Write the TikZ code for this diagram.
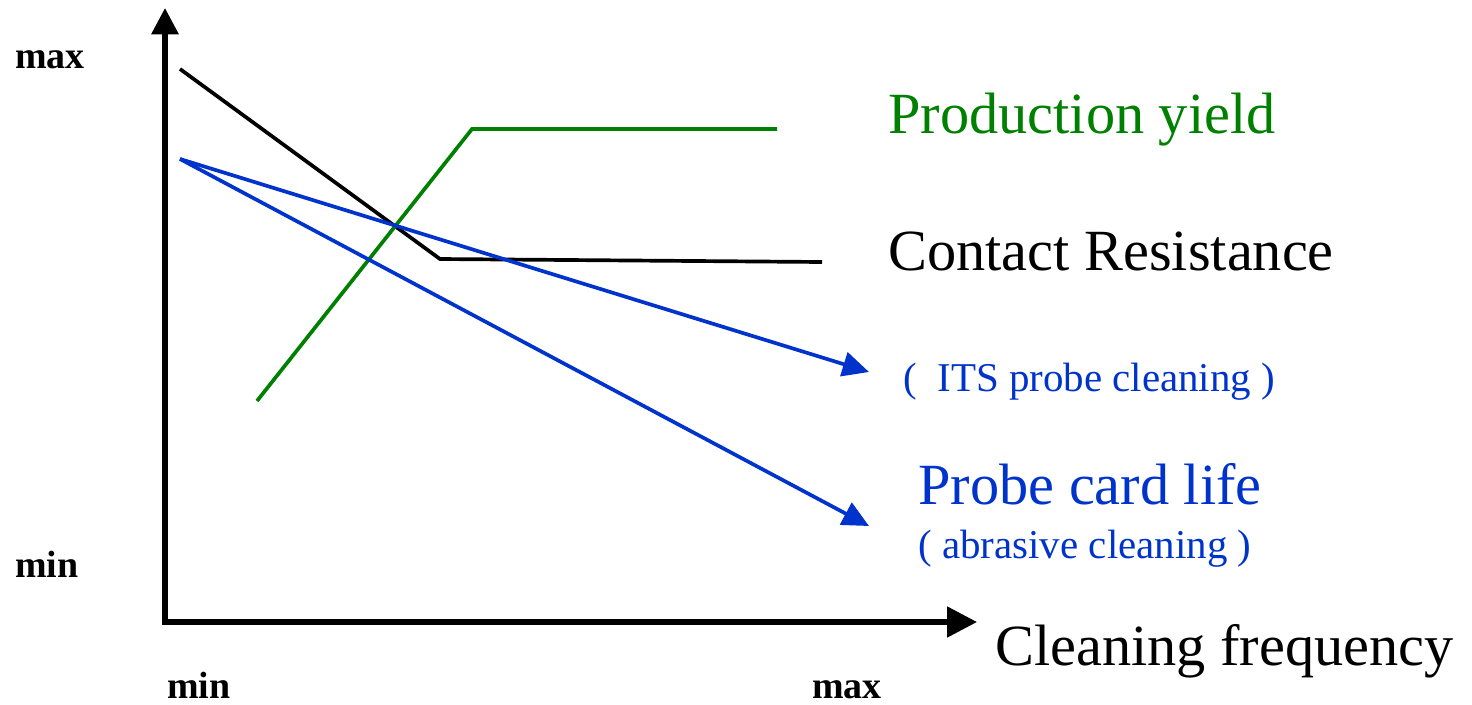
\documentclass[tikz,border=0pt]{standalone}
\usepackage{fontspec}
\setmainfont{Liberation Serif}
\usetikzlibrary{positioning}
\usetikzlibrary{arrows.meta}
\usetikzlibrary{calc}

\definecolor{yieldgreen}{RGB}{0,128,0}
\definecolor{lifeblue}{RGB}{0,51,204}

\tikzset{
  axis/.style={line width=3pt, {Triangle[length=15pt,width=15pt]}-{Triangle[length=17pt,width=17pt]}},
  curve/.style={line width=2.1pt},
  blueline/.style={curve, lifeblue, -{Triangle[length=15pt,width=14pt]}},
  biglabel/.style={inner sep=0pt, anchor=base west, font=\fontsize{33.2}{36}\selectfont},
  smalllabel/.style={inner sep=0pt, anchor=base west, font=\fontsize{23.3}{26}\selectfont},
  ticklabel/.style={inner sep=0pt, anchor=base west, font=\fontsize{21.6}{24}\selectfont\bfseries},
}

\begin{document}
\begin{tikzpicture}[x=0.02cm, y=-0.02cm]
  \useasboundingbox (0,0) rectangle (1472,704);

  % axes
  \coordinate (ytip) at (165,8);
  \coordinate (xtip) at (977,622);
  \draw[axis] (ytip) |- (xtip);

  % min and max marks
  \node[ticklabel] (ymax) at (15,68) {max};
  \node[ticklabel] (ymin) at (15,577) {min};
  \node[ticklabel] (xmin) at (167,698) {min};
  \node[ticklabel] (xmax) at (812,698) {max};

  % contact resistance
  \coordinate (c1) at (180,69);
  \coordinate (c2) at (440,259);
  \coordinate (c3) at (822,262);
  \draw[curve] (c1) -- (c2) -- (c3);

  % production yield
  \coordinate (g1) at (257,401);
  \coordinate (g2) at (472,129);
  \coordinate (g3) at (777,129);
  \draw[curve, yieldgreen] (g1) -- (g2) -- (g3);

  % probe card life
  \coordinate (b0) at (180,159);
  \coordinate (its) at (869,372);
  \coordinate (abr) at (869,526);
  \draw[blueline] (b0) -- (its);
  \draw[blueline] (b0) -- (abr);

  % labels
  \node[biglabel, yieldgreen] (yield) at (888,133) {Production yield};
  \node[biglabel] (resist) at (888,270) {Contact Resistance};
  \node[smalllabel, lifeblue] (itslabel) at (903,391) {( \ ITS probe cleaning )};
  \node[biglabel, lifeblue] (life) at (918,504) {Probe card life};
  \node[smalllabel, lifeblue] (abrlabel) at (918,558) {( abrasive cleaning )};
  \node[biglabel] (freq) at (995,665) {Cleaning frequency};
\end{tikzpicture}
\end{document}
